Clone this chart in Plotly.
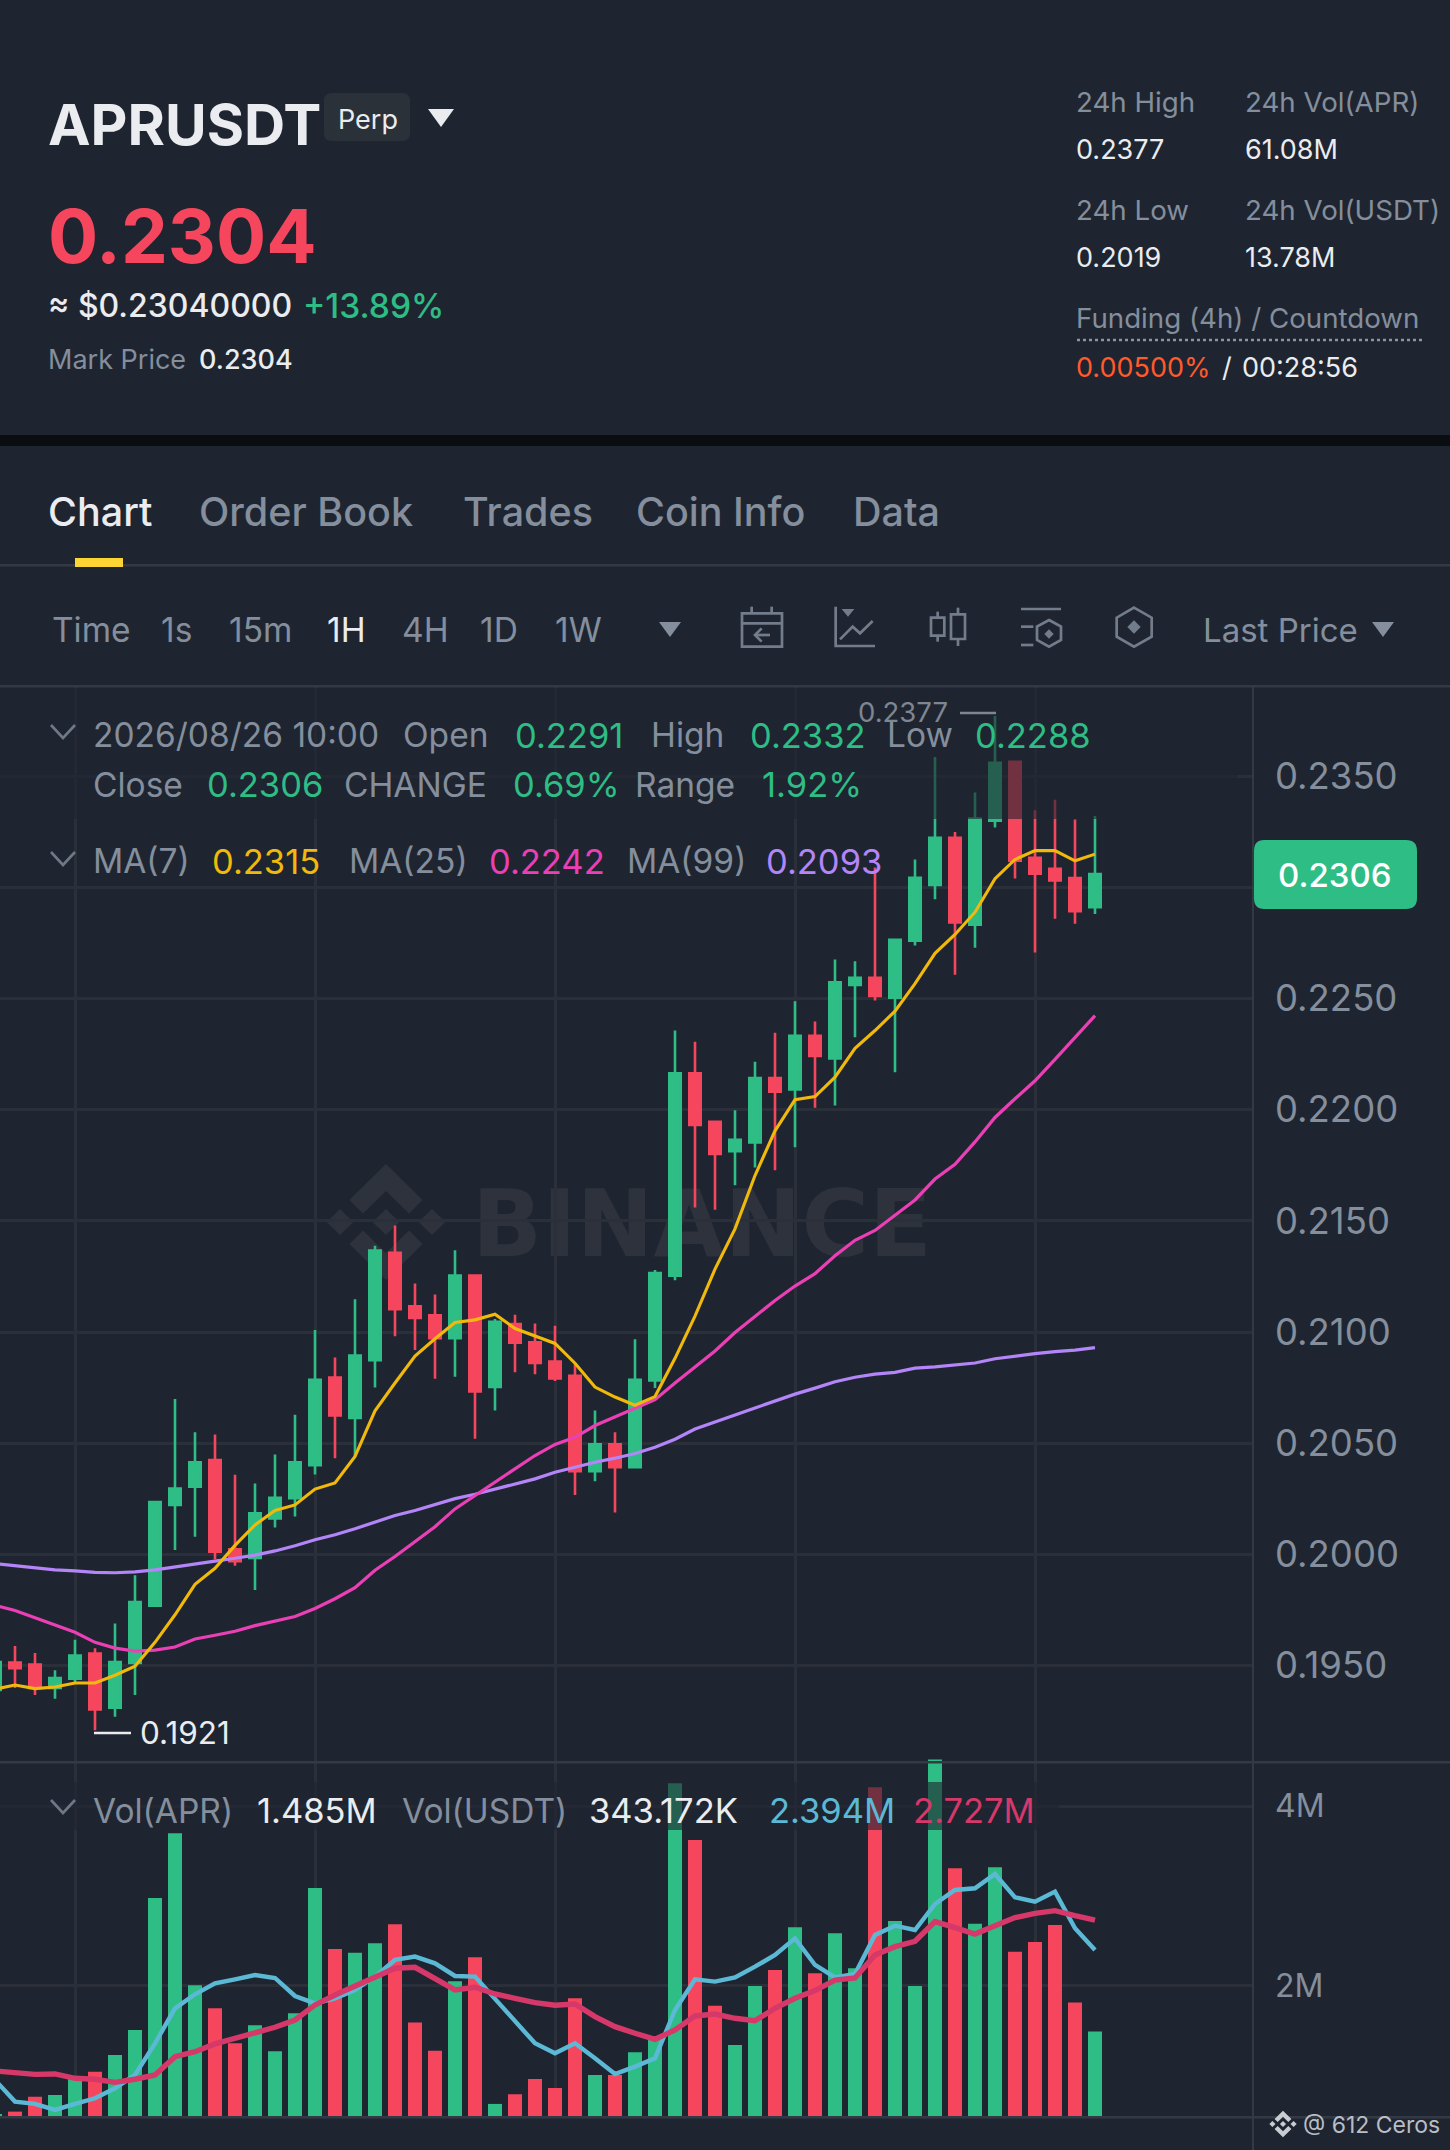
import plotly.graph_objects as go

W, H = 1450, 2150
S = W / 1057  # text positions below were measured on a 1057 wide copy

FONT = "Inter"
BG = "#1e2530"
GRID = "#2a2f3a"
SEP = "#333a45"
GREEN = "#2ebd85"
RED = "#f6465d"
GREY = "#848e9c"
WHITE = "#eaecef"
ICON = "#737c8a"
MARK = "#2e323c"

# candles, oldest first
opens = [.19391, .19514, .19505, .19400, .19441, .19555, .19311, .19512, .19770, .20223,
         .20305, .20425, .20023, .19984, .20162, .20253, .20402, .20796, .20614, .20874,
         .21356, .21116, .21075, .20973, .21254, .20753, .21036, .20954, .20867, .20804,
         .20374, .20495, .20393, .20783, .21253, .22164, .21945, .21813, .21853, .22142,
         .22091, .22332, .22230, .22561, .22593, .22503, .22760, .23010, .23223, .22832,
         .23299, .23564, .23133, .23083, .23041, .2291]
highs = [.19516, .19589, .19557, .19479, .19617, .19578, .19690, .19907, .20240, .20699,
         .20550, .20539, .20358, .20319, .20450, .20628, .21009, .20886, .21148, .21388,
         .21479, .21219, .21169, .21368, .21260, .21059, .21078, .21039, .21029, .20860,
         .20648, .20550, .20968, .21279, .22356, .22306, .21945, .21997, .22216, .22346,
         .22487, .22396, .22675, .22667, .23089, .22766, .23125, .23586, .23249, .23426,
         .2377, .23564, .23346, .23394, .23305, .2332]
lows = [.19253, .19400, .19368, .19351, .19427, .1921, .19271, .19368, .19770, .20020,
        .20080, .19979, .19949, .19840, .20121, .20171, .20360, .20433, .20442, .20751,
        .20981, .20920, .20790, .20799, .20520, .20648, .20819, .20810, .20780, .20267,
        .20329, .20189, .20391, .20749, .21233, .21560, .21550, .21660, .21740, .21728,
        .21831, .22009, .22019, .22326, .22491, .22168, .22738, .22946, .22607, .22728,
        .23269, .23039, .22707, .22858, .22836, .2288]
closes = [.19516, .19489, .19400, .19445, .19546, .19303, .19516, .19786, .20236, .20296,
          .20415, .20013, .19970, .20185, .20255, .20415, .20785, .20625, .20895, .21367,
          .21103, .21064, .20973, .21254, .20733, .21046, .20952, .20861, .20792, .20374,
          .20495, .20393, .20785, .21265, .22164, .21931, .21801, .21865, .22142, .22081,
          .22332, .22242, .22573, .22593, .22511, .22764, .23043, .23223, .22842, .23309,
          .23560, .23119, .23061, .23031, .22892, .2306]

ma7 = [.19395, .19413, .19397, .19404, .19422, .19422, .19457, .19498, .19605, .19729,
       .19866, .19938, .20041, .20133, .20198, .20223, .20294, .20322, .20441, .20646,
       .20771, .20892, .20970, .21043, .21055, .21080, .21016, .20984, .20949, .20860,
       .20753, .20708, .20671, .20710, .20882, .21072, .21283, .21464, .21704, .21905,
       .22045, .22059, .22146, .22276, .22356, .22443, .22567, .22703, .22788, .22888,
       .23039, .23125, .23165, .23165, .23119, .23149]
ma25 = [.19771, .19748, .19716, .19684, .19650, .19605, .19579, .19566, .19570, .19584,
        .19620, .19637, .19655, .19680, .19700, .19721, .19757, .19801, .19851, .19929,
        .19991, .20059, .20125, .20205, .20264, .20326, .20386, .20445, .20495, .20527,
        .20580, .20619, .20660, .20696, .20771, .20845, .20915, .20998, .21072, .21142,
        .21207, .21263, .21343, .21413, .21457, .21524, .21594, .21688, .21754, .21855,
        .21965, .22049, .22130, .22226, .22326, .22423]
ma99 = [.19959, .19950, .19940, .19931, .19926, .19920, .19918, .19922, .19931, .19943,
        .19956, .19970, .19983, .19997, .20016, .20039, .20066, .20089, .20116, .20146,
        .20175, .20198, .20224, .20251, .20271, .20294, .20317, .20340, .20370, .20393,
        .20415, .20433, .20454, .20482, .20518, .20564, .20597, .20627, .20659, .20690,
        .20721, .20748, .20777, .20797, .20811, .20819, .20838, .20844, .20852, .20861,
        .20880, .20892, .20903, .20912, .20919, .20930]

# volume in millions
volumes = [.565, .591, .758, .777, .963, 1.037, 1.223, 1.502, 2.974, 3.695,
           2.0, 1.743, 1.353, 1.554, 1.264, 1.688, 3.086, 2.405, 2.364, 2.468,
           2.680, 1.584, 1.271, 2.045, 2.312, .677, .784, .955, .855, 1.855,
           1.0, 1.0, 1.253, 1.427, 4.253, 3.621, 1.773, 1.335, 1.993, 2.171,
           2.647, 2.134, 2.580, 2.190, 4.208, 2.717, 1.993, 4.520, 3.305, 2.688,
           3.316, 2.375, 2.483, 2.673, 1.807, 1.485]
vol_ma7 = [.944, .703, .677, .610, .677, .740, .851, 1.0, 1.353, 1.743,
           1.900, 2.022, 2.067, 2.115, 2.082, 1.881, 1.799, 1.855, 1.948, 2.097,
           2.283, 2.320, 2.245, 2.104, 2.097, 1.855, 1.595, 1.353, 1.242, 1.353,
           1.186, 1.011, 1.093, 1.186, 1.725, 2.067, 2.041, 2.089, 2.208, 2.338,
           2.524, 2.227, 2.089, 2.126, 2.561, 2.665, 2.617, 2.907, 3.063, 3.082,
           3.242, 2.981, 2.933, 3.045, 2.636, 2.394]
vol_ma25 = [1.045, 1.030, 1.007, 1.011, .963, .952, .918, .952, 1.0, 1.204,
            1.260, 1.346, 1.409, 1.483, 1.532, 1.613, 1.781, 1.892, 1.993, 2.097,
            2.190, 2.201, 2.078, 1.948, 1.978, 1.903, 1.855, 1.807, 1.777, 1.792,
            1.651, 1.539, 1.465, 1.398, 1.502, 1.658, 1.680, 1.632, 1.606, 1.743,
            1.855, 1.941, 2.059, 2.082, 2.338, 2.431, 2.491, 2.710, 2.643, 2.572,
            2.665, 2.755, 2.803, 2.833, 2.777, 2.727]

candle_idx = list(range(len(closes)))
price_ticks = [.195, .2, .205, .21, .215, .22, .225, .23, .235]
vol_ticks = [2, 4]
vol_tick_labels = ["2M", "4M"]
time_grid = [4, 16, 28, 40, 52]

tabs = [("Chart", 35, WHITE), ("Order Book", 145, GREY), ("Trades", 338, GREY),
        ("Coin Info", 464, GREY), ("Data", 622, GREY)]
intervals = [("Time", 38, GREY), ("1s", 118, GREY), ("15m", 167, GREY), ("1H", 239, WHITE),
             ("4H", 293, GREY), ("1D", 350, GREY), ("1W", 405, GREY)]
LABEL, VALUE = 33.5, 34.5
legend_rows = [
    (536, [("2026/08/26 10:00", 68, GREY, LABEL), ("Open", 294, GREY, LABEL), ("0.2291", 376, GREEN, VALUE),
           ("High", 475, GREY, LABEL), ("0.2332", 547, GREEN, VALUE), ("Low", 647, GREY, LABEL),
           ("0.2288", 711, GREEN, VALUE)]),
    (572, [("Close", 68, GREY, LABEL), ("0.2306", 151, GREEN, VALUE), ("CHANGE", 251, GREY, LABEL),
           ("0.69%", 374, GREEN, VALUE), ("Range", 463, GREY, LABEL), ("1.92%", 556, GREEN, VALUE)]),
    (628, [("MA(7)", 68, GREY, LABEL), ("0.2315", 155, "#f0b90b", VALUE), ("MA(25)", 255, GREY, LABEL),
           ("0.2242", 357, "#eb40b5", VALUE), ("MA(99)", 457, GREY, LABEL), ("0.2093", 559, "#b385f8", VALUE)]),
    (1320, [("Vol(APR)", 68, GREY, LABEL), ("1.485M", 188, WHITE, VALUE), ("Vol(USDT)", 293, GREY, LABEL),
            ("343.172K", 430, WHITE, VALUE), ("2.394M", 561, "#5cb9d6", VALUE), ("2.727M", 666, "#d6386a", VALUE)]),
]
stats = [("24h High", 785, 74, GREY), ("24h Vol(APR)", 908, 74, GREY),
         ("0.2377", 785, 109, WHITE), ("61.08M", 908, 109, WHITE),
         ("24h Low", 785, 153, GREY), ("24h Vol(USDT)", 908, 153, GREY),
         ("0.2019", 785, 188, WHITE), ("13.78M", 908, 188, WHITE),
         ("Funding (4h) / Countdown", 785, 232, GREY),
         ("0.00500%", 785, 268, "#ff5a2c"), ("/", 891, 268, WHITE), ("00:28:56", 906, 268, WHITE)]


def fx(x):
    return x / W


def fy(y):
    return 1 - y / H


annotations = []
shapes = []


def txt(x, y, text, color, size, weight=400, anchor="left", family=FONT):
    nudge = 1.4 if anchor == "left" else 0
    annotations.append(dict(x=fx(x * S - nudge), y=fy(y * S), xref="paper", yref="paper", text=text, showarrow=False,
                            xanchor=anchor, yanchor="middle", borderpad=0,
                            font=dict(family=family, color=color, size=size, weight=weight)))


def box(x0, y0, x1, y1, color, layer="above", opacity=1):
    shapes.append(dict(type="rect", xref="paper", yref="paper", x0=fx(x0), x1=fx(x1), y0=fy(y0), y1=fy(y1),
                       fillcolor=color, line_width=0, layer=layer, opacity=opacity))


def poly(points, color=ICON, width=2.7, closed=False, fill=None, layer="above", dash=None):
    path = "M " + " L ".join(f"{fx(px)},{fy(py)}" for px, py in points)
    if closed:
        path += " Z"
    shapes.append(dict(type="path", xref="paper", yref="paper", path=path, layer=layer, fillcolor=fill,
                       line=dict(color=color, width=width, dash=dash or "solid")))


def binance_logo(cx, cy, s, color, layer):
    top = [(0, -58), (-36.6, -22), (-23, -8.5), (0, -31), (23, -8.5), (36.6, -22)]
    poly([(cx + a * s, cy + b * s) for a, b in top], color, 0, True, color, layer)
    poly([(cx + a * s, cy - b * s) for a, b in top], color, 0, True, color, layer)
    for dx in (-46, 0, 46):
        diamond = [(0, -13), (13.5, 0), (0, 13), (-13.5, 0)]
        poly([(cx + (dx + a) * s, cy + b * s) for a, b in diamond], color, 0, True, color, layer)


def icon_xy(points):
    return [(720 + a / 3, 595 + b / 3) for a, b in points]


# header
txt(35, 91, "APRUSDT", WHITE, 57, 700)
txt(35, 172, "0.2304", RED, 74.5, 700)
txt(35, 223, "≈ $0.23040000", WHITE, 32, 500)
txt(221, 223, "+13.89%", GREEN, 33.5, 500)
txt(35, 262, "Mark Price", GREY, 27)
txt(145, 262, "0.2304", WHITE, 27, 500)
for label, sx, sy, col in stats:
    txt(sx, sy, label, col, 27.7 if col == GREY else 27)
poly([(1077, 340), (1423, 340)], "#8d95a2", 2.5, dash="dot")

shapes.append(dict(type="path", xref="paper", yref="paper", layer="above", fillcolor="#2b3139", line_width=0,
                   path=f"M {fx(332)},{fy(93)} L {fx(402)},{fy(93)} Q {fx(410)},{fy(93)} {fx(410)},{fy(101)} "
                        f"L {fx(410)},{fy(133)} Q {fx(410)},{fy(141)} {fx(402)},{fy(141)} L {fx(332)},{fy(141)} "
                        f"Q {fx(324)},{fy(141)} {fx(324)},{fy(133)} L {fx(324)},{fy(101)} Q {fx(324)},{fy(93)} {fx(332)},{fy(93)} Z"))
txt(268, 87, "Perp", WHITE, 27, 400, "center")
poly([(428, 109), (454, 109), (441, 127)], WHITE, 0, True, WHITE)

box(0, 435, W, 446, "#0b0e11")
for label, tx, col in tabs:
    txt(tx, 373, label, col, 39.5, 500)
box(0, 564, W, 566.5, SEP)
box(75, 558, 123, 567, "#fcd535")

for label, tx, col in intervals:
    txt(tx, 459, label, col, 33.5, 400)
txt(877, 459, "Last Price", GREY, 33)
poly([(659, 622), (681, 622), (670, 637)], GREY, 0, True, GREY)
poly([(1372, 622), (1394, 622), (1383, 637)], GREY, 0, True, GREY)
box(0, 685, W, 687.5, SEP)

# toolbar icons
poly(icon_xy([(66, 55), (186, 55), (186, 155), (66, 155)]), closed=True)
poly(icon_xy([(66, 85), (186, 85)]))
poly(icon_xy([(95, 35), (95, 55)]))
poly(icon_xy([(155, 35), (155, 55)]))
poly(icon_xy([(150, 120), (105, 120)]))
poly(icon_xy([(125, 100), (105, 120), (125, 140)]))
poly(icon_xy([(347, 35), (347, 153), (465, 153)]))
poly(icon_xy([(360, 133), (398, 95), (420, 115), (458, 78)]))
poly(icon_xy([(365, 42), (403, 42), (384, 65)]), ICON, 0, True, ICON)
poly(icon_xy([(633, 68), (673, 68), (673, 122), (633, 122)]), closed=True)
poly(icon_xy([(653, 50), (653, 68)]))
poly(icon_xy([(653, 122), (653, 140)]))
poly(icon_xy([(693, 58), (735, 58), (735, 132), (693, 132)]), closed=True)
poly(icon_xy([(714, 38), (714, 58)]))
poly(icon_xy([(714, 132), (714, 153)]))
poly(icon_xy([(903, 42), (1023, 42)]))
poly(icon_xy([(903, 95), (940, 95)]))
poly(icon_xy([(903, 150), (940, 150)]))
poly(icon_xy([(987, 75), (1023, 95), (1023, 135), (987, 155), (951, 135), (951, 95)]), closed=True)
poly(icon_xy([(987, 103), (1001, 117), (987, 131), (973, 117)]), ICON, 0, True, ICON)
poly(icon_xy([(1242, 38), (1295, 68), (1295, 125), (1242, 155), (1190, 125), (1190, 68)]), closed=True)
poly(icon_xy([(1242, 76), (1262, 96), (1242, 116), (1222, 96)]), ICON, 0, True, ICON)

# watermark sits under the candles
binance_logo(386, 1222, 1, MARK, "below")
shapes.append(dict(type="rect", xref="paper", yref="paper", x0=fx(460), x1=fx(944), y0=fy(1167), y1=fy(1267),
                   line_width=0, layer="below",
                   label=dict(text="BINANCE", textposition="middle center",
                              font=dict(family="DejaVu Sans", size=92, color=MARK, weight=700))))

# legend backdrops dim what runs behind the first rows
box(0, 688, 1238, 819, BG, opacity=0.62)
box(0, 1782, 1059, 1830, BG, opacity=0.62)

for row_y, items in legend_rows:
    for label, tx, col, size in items:
        txt(tx, row_y, label, col, size)
for cy in (725, 852, 1800):
    poly([(51, cy), (63, cy + 13), (75, cy)], "#6f7887", 2.6)

# high / low markers
txt(626, 519, "0.2377", "#7e8692", 27.5)
poly([(960, 713), (996, 713)], "#7e8692", 2.5)
txt(102, 1263, "0.1921", WHITE, 31.5)
poly([(94, 1733), (131, 1733)], WHITE, 2.5)

# last price tag
shapes.append(dict(type="path", xref="paper", yref="paper", layer="above", fillcolor=GREEN, line_width=0,
                   path=f"M {fx(1264)},{fy(840)} L {fx(1406)},{fy(840)} Q {fx(1417)},{fy(840)} {fx(1417)},{fy(851)} "
                        f"L {fx(1417)},{fy(898)} Q {fx(1417)},{fy(909)} {fx(1406)},{fy(909)} L {fx(1264)},{fy(909)} "
                        f"Q {fx(1254)},{fy(909)} {fx(1254)},{fy(898)} L {fx(1254)},{fy(851)} Q {fx(1254)},{fy(840)} {fx(1264)},{fy(840)} Z"))
txt(973, 638, "0.2306", "#ffffff", 33, 500, "center")

# panel frame
box(0, 1761, W, 1763.5, SEP)
box(0, 2116, W, 2118.5, SEP)
box(1252, 687, 1254, H, SEP)

binance_logo(1283, 2124, 0.23, "#c9ccd1", "above")
txt(950, 1549, "@ 612 Ceros", "#b9bdc4", 23)

fig = go.Figure()
fig.add_trace(go.Candlestick(x=candle_idx, open=opens, high=highs, low=lows, close=closes,
                             increasing=dict(line=dict(color=GREEN, width=2.6), fillcolor=GREEN),
                             decreasing=dict(line=dict(color=RED, width=2.6), fillcolor=RED),
                             whiskerwidth=0, xaxis="x", yaxis="y", showlegend=False))
for values, color, lw in ((ma99, "#b385f8", 3.2), (ma25, "#eb40b5", 3.2), (ma7, "#f0b90b", 3.1)):
    fig.add_trace(go.Scatter(x=candle_idx, y=values, mode="lines", line=dict(color=color, width=lw),
                             xaxis="x", yaxis="y", showlegend=False))

bar_colors = [GREEN if c >= o else RED for o, c in zip(opens, closes)]
fig.add_trace(go.Bar(x=candle_idx, y=volumes, marker=dict(color=bar_colors, line_width=0), width=0.7,
                     xaxis="x2", yaxis="y2", showlegend=False))
fig.add_trace(go.Scatter(x=candle_idx, y=vol_ma7, mode="lines", line=dict(color="#5cb9d6", width=4.4),
                         xaxis="x2", yaxis="y2", showlegend=False))
fig.add_trace(go.Scatter(x=candle_idx, y=vol_ma25, mode="lines", line=dict(color="#d6386a", width=5.4),
                         xaxis="x2", yaxis="y2", showlegend=False))

axis_x = dict(range=[0.25, 62.85], tickvals=time_grid, showticklabels=False, ticks="", gridcolor=GRID,
              gridwidth=2.5, zeroline=False, showline=False, fixedrange=True)

fig.update_layout(
    width=W, height=H, margin=dict(l=0, r=0, t=0, b=0), autosize=False,
    paper_bgcolor=BG, plot_bgcolor=BG, showlegend=False, boxgap=0.43, boxgroupgap=0, bargap=0.3,
    hovermode=False,
    xaxis=dict(axis_x, domain=[0, 1252 / W], anchor="y", rangeslider=dict(visible=False)),
    xaxis2=dict(axis_x, domain=[0, 1252 / W], anchor="y2"),
    yaxis=dict(domain=[1 - 1762 / H, 1 - 686 / H], range=[.19067, .23905], side="right", tickvals=price_ticks,
               ticktext=[f"{p:.4f}" for p in price_ticks], tickfont=dict(family=FONT, color=GREY, size=36.5),
               ticks="", ticklabelstandoff=22, gridcolor=GRID, gridwidth=2.5, zeroline=False, showline=False,
               fixedrange=True, anchor="x"),
    yaxis2=dict(domain=[1 - 2117 / H, 1 - 1755 / H], range=[.531, 4.569], side="right", tickvals=vol_ticks,
                ticktext=vol_tick_labels, tickfont=dict(family=FONT, color=GREY, size=32),
                ticks="", ticklabelstandoff=22, gridcolor=GRID, gridwidth=2.5, zeroline=False, showline=False,
                fixedrange=True, anchor="x2"),
    shapes=shapes,
    annotations=annotations,
)

fig.write_html("out.html", config=dict(displayModeBar=False),
               post_script="document.body.style.margin='0';document.body.style.overflow='hidden';")
